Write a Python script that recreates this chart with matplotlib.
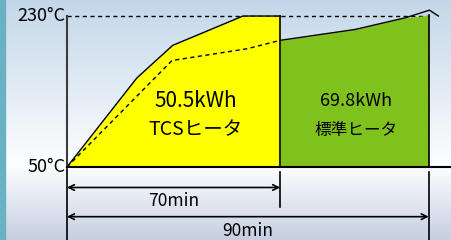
import matplotlib.pyplot as plt
import numpy as np

plt.rcParams['font.family'] = ['Noto Sans CJK JP', 'DejaVu Sans']

# temperature profiles (time in min, temperature in °C)
tcs_t = [0, 22.9, 34.7, 57.8, 70]
tcs_temp = [50, 156, 195, 230, 230]
tcs_dash_t = [0, 34.5, 59.2, 70]
tcs_dash_temp = [50, 177, 191, 201]
std_t = [70, 80.1, 86.9, 90]
std_top = [201, 214, 228, 231]
std_line_t = [70, 80.1, 86.9, 90.1, 91.3]
std_line_temp = [201, 214, 228, 237, 230]

t_tcs_end = 70
t_std_end = 90
temp_min = 50
temp_max = 230

energy_labels = ['50.5kWh', '69.8kWh']
heater_labels = ['TCSヒータ', '標準ヒータ']


# schematic x scale: first 70 min are compressed, last 20 stretched
def fwd(t):
    t = np.asarray(t, dtype=float)
    return np.where(t <= 70, t * 3.043, 213 + (t - 70) * 7.425)


def inv(p):
    p = np.asarray(p, dtype=float)
    return np.where(p <= 213, p / 3.043, 70 + (p - 213) / 7.425)


fig = plt.figure(figsize=(4.51, 2.40), dpi=100)
ax = fig.add_axes([0, 0, 1, 1])
ax.set_xscale('function', functions=(fwd, inv))
ax.set_xlim(-22.0, 93.0)
ax.set_ylim(-37.0, 249.1)
ax.axis('off')

# background gradient
stops = [0.0, 0.31, 1.0]
top_c = np.array([0xc3, 0xd7, 0xe9]) / 255
mid_c = np.array([0xfd, 0xfe, 0xff]) / 255
bot_c = np.array([0xc6, 0xcf, 0xe2]) / 255
yy = np.linspace(0, 1, 240)
grad = np.zeros((240, 1, 3))
for k in range(3):
    grad[:, 0, k] = np.interp(yy, stops, [bot_c[k], mid_c[k], top_c[k]])
ax.imshow(grad, extent=[0, 1, 0, 1], transform=ax.transAxes, aspect='auto',
          origin='lower', zorder=0)
ax.add_patch(plt.Rectangle((0, 0), 5 / 451, 1, transform=ax.transAxes,
                           color='#68b2c3', zorder=1))

# 230 dashed reference
ax.plot([0, t_std_end], [temp_max, temp_max], ls=(0, (3, 2.5)), c='black',
        lw=1.0, zorder=2)

# yellow TCS area
ax.fill_between(tcs_t, temp_min, tcs_temp, color='#ffff00', zorder=3, lw=0)
ax.plot(tcs_t, tcs_temp, c='black', lw=1.0, zorder=5)
ax.plot(tcs_dash_t, tcs_dash_temp, c='black', lw=1.0, ls=(0, (3, 2.5)), zorder=5)
ax.plot([t_tcs_end, t_tcs_end], [temp_min, temp_max], c='black', lw=1.2, zorder=5)

# green standard area
ax.fill_between(std_t, temp_min, std_top, color='#80c21d', zorder=3, lw=0)
ax.plot(std_line_t, std_line_temp, c='black', lw=1.0, zorder=5)
ax.plot([t_std_end, t_std_end], [temp_min, std_top[-1]], c='black', lw=1.2, zorder=5)

# axes lines
ax.plot([0, 0], [temp_min, temp_max], c='#3c3c3c', lw=1.5, zorder=5)
ax.plot([0, 94], [temp_min, temp_min], c='black', lw=1.5, zorder=5)
ax.plot([94, 94.2], [temp_min, temp_min], c='#888888', lw=1.5, zorder=5)

ax.text(-0.6, temp_max, '230°C', ha='right', va='center', fontsize=13, zorder=6)
ax.text(-0.6, temp_min, '50°C', ha='right', va='center', fontsize=13, zorder=6)

# dimension lines
ax.plot([0, 0], [47.5, -40], c='black', lw=1.2, zorder=5)
ax.plot([t_tcs_end, t_tcs_end], [44, 2.5], c='black', lw=1.2, zorder=5)
ax.plot([t_std_end, t_std_end], [44, -40], c='black', lw=1.2, zorder=5)
ax.annotate('', xy=(0, 25.6), xytext=(t_tcs_end, 25.6),
            arrowprops=dict(arrowstyle='<->', lw=1.2, color='black',
                            shrinkA=0, shrinkB=0, mutation_scale=10), zorder=6)
ax.annotate('', xy=(0, -9.2), xytext=(t_std_end, -9.2),
            arrowprops=dict(arrowstyle='<->', lw=1.2, color='black',
                            shrinkA=0, shrinkB=0, mutation_scale=10), zorder=6)
ax.text(t_tcs_end / 2, 8.9, '%dmin' % t_tcs_end, ha='center', va='center',
        fontsize=12.5, zorder=6)
ax.text(inv(fwd(t_std_end) / 2), -26.3, '%dmin' % t_std_end, ha='center',
        va='center', fontsize=12.5, zorder=6)

# labels inside areas
ax.text(42.3, 129, energy_labels[0], ha='center', va='center', fontsize=15, zorder=6)
ax.text(42.3, 94, heater_labels[0], ha='center', va='center', fontsize=14, zorder=6)
ax.text(80.2, 129, energy_labels[1], ha='center', va='center', fontsize=13, zorder=6)
ax.text(80.2, 94, heater_labels[1], ha='center', va='center', fontsize=12, zorder=6)

fig.savefig('out.png', dpi=100)
